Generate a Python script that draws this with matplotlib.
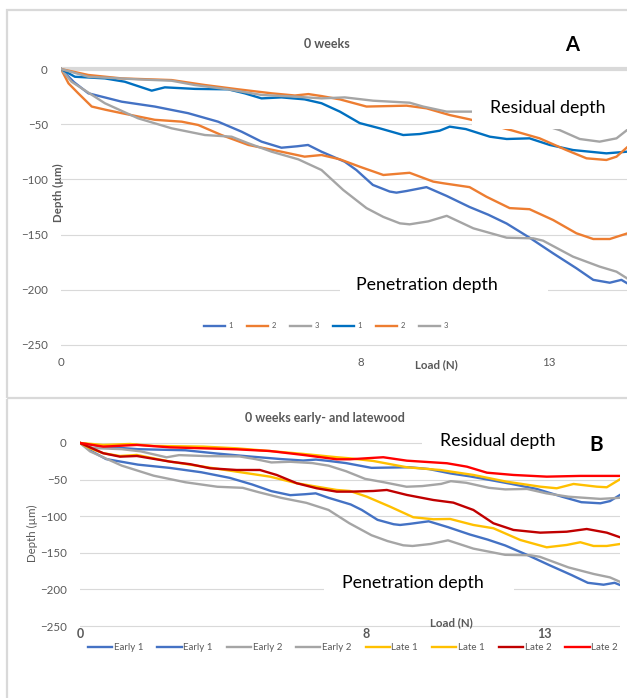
import matplotlib
matplotlib.use('Agg')
import matplotlib.pyplot as plt
from matplotlib.patches import Rectangle
from matplotlib.lines import Line2D

plt.rcParams['font.family'] = ['Lato', 'DejaVu Sans']

# ---- data: load (N) vs depth (um) ----
depth_ticks = [0, -50, -100, -150, -200, -250]
load_ticks = [0, 8, 13]
load_labels = ['0', '8', '13']

# panel A, penetration depth
pen1_load = [0, 0.35, 0.73, 1.2, 1.62, 2.5, 3.39, 4.19, 4.82, 5.35, 5.88, 6.3, 6.59, 6.95, 7.57,
             7.88, 8.32, 8.77, 8.95, 9.22, 9.75, 10.29, 10.9, 11.4, 11.89, 12.51, 13.13, 13.75,
             14.2, 14.64, 14.95, 15.1]
pen1_depth = [0, -12, -22, -26, -29.6, -34, -40, -47.7, -56.8, -65.8, -71.3, -70, -68.8, -74.9, -84,
              -91.5, -105, -111, -112, -110.5, -107, -115, -125, -132, -140, -153, -167, -180.5,
              -191, -193.6, -191, -194]
pen2_load = [0, 0.2, 0.46, 0.82, 1.2, 1.62, 2.5, 3.22, 3.66, 4.28, 5.0, 5.88, 6.5, 6.95, 7.44,
             7.97, 8.6, 9.3, 9.93, 10.2, 10.9, 11.35, 11.97, 12.5, 13.13, 13.75, 14.2, 14.64, 15.1]
pen2_depth = [0, -13, -22, -34, -37, -40, -46, -47.7, -50.7, -59.8, -68.8, -74.9, -79.4, -77.9, -81.8,
              -88.5, -96, -94, -102, -103.5, -107, -115.7, -126, -127, -136.8, -148.8, -154, -154, -149]
pen3_load = [0, 0.28, 1.17, 2.06, 2.95, 3.84, 4.55, 5.0, 5.62, 6.33, 6.95, 7.53, 8.15, 8.6, 9.04,
             9.3, 9.8, 10.29, 11.0, 11.89, 12.6, 12.86, 13.66, 14.37, 14.82, 15.1]
pen3_depth = [0, -11.5, -31, -44.7, -53.7, -59.8, -61.3, -67.3, -74.9, -81.8, -91.5, -109.6, -126, -134,
              -139.8, -140.7, -138, -133, -144.3, -152.8, -153.4, -155.5, -170, -179, -183.6, -189.6]

# panel A, residual depth
res1_load = [0, 0.37, 1.17, 1.7, 2.42, 2.77, 3.57, 4.46, 4.9, 5.35, 5.88, 6.5, 6.95, 7.44, 7.97, 8.5,
             9.13, 9.57, 10.1, 10.37, 10.8, 11.44, 11.89, 12.5, 13.04, 13.66, 14.55, 15.1]
res1_depth = [0, -7, -8.5, -11.5, -19.6, -16.6, -18, -18.4, -22, -26.6, -25.7, -27.5, -31, -38.6, -49,
              -53.7, -59.8, -58.9, -55.9, -52.2, -54.4, -61.3, -63.4, -62.8, -68.8, -73.4, -76.4, -74.9]
res2_load = [0, 0.73, 1.62, 2.95, 3.84, 4.73, 5.62, 6.24, 6.6, 6.95, 7.44, 8.15, 9.22, 9.75, 10.37,
             10.9, 11.4, 12.06, 12.77, 13.48, 14.02, 14.55, 14.82, 15.1]
res2_depth = [0, -5.4, -8.5, -10, -14.5, -18.4, -22, -24, -22.7, -24.5, -27.5, -34, -33.2, -35.6, -41.7,
              -45.6, -50, -55.9, -62.8, -73.4, -80.9, -82.4, -79.4, -71]
res3_load = [0, 0.73, 2.06, 2.95, 3.57, 4.46, 5.35, 6.24, 6.95, 7.57, 8.33, 9.3, 9.66, 10.29, 11.0,
             12.0, 12.8, 13.3, 13.84, 14.37, 14.82, 15.1]
res3_depth = [0, -7, -9.4, -10.6, -14.5, -18.4, -23.5, -25, -26.6, -25.7, -28.7, -30.5, -34, -38.6,
              -38.6, -43, -50, -55.3, -63.4, -65.8, -62.8, -55.3]

# panel B, latewood
late1_pen_load = [0, 0.28, 0.65, 1.12, 1.59, 2.52, 3.45, 4.38, 5.31, 6.06, 6.62, 7.18, 7.55, 8.02,
                  8.67, 9.32, 9.88, 10.35, 11.0, 11.56, 12.31, 13.05, 13.61, 13.99, 14.36, 14.73, 15.1]
late1_pen_depth = [0, -7.3, -14, -17.8, -16.4, -25.5, -32.4, -39.2, -46, -55, -59.7, -64.2, -65.6, -73.4,
                   -87, -101.5, -104.2, -103.8, -112, -116.5, -132.5, -142.5, -139.3, -135.6, -140.7,
                   -140.7, -138]
late1_res_load = [0, 0.65, 1.4, 2.04, 3.45, 4.38, 5.31, 6.25, 7.18, 7.55, 8.2, 9.14, 10.07, 11.0,
                  11.93, 12.87, 13.33, 13.8, 14.45, 14.73, 15.1]
late1_res_depth = [0, -2.7, -1.4, -4, -5, -7.3, -11, -15, -19.5, -21, -24.6, -33.2, -36.9, -43.7,
                   -52.9, -59.7, -61.9, -56, -59.7, -60.5, -49.6]
late2_pen_load = [0, 0.65, 1.12, 1.59, 2.52, 3.08, 3.64, 4.38, 5.03, 5.5, 6.06, 6.62, 7.18, 7.55, 8.2,
                  8.58, 9.14, 9.88, 10.44, 11.0, 11.56, 12.12, 12.87, 13.61, 14.17, 14.73, 15.1]
late2_pen_depth = [0, -14, -18.7, -17.8, -25.5, -29, -34.6, -36.9, -36.9, -43.7, -55, -61.9, -66.5, -66.5,
                   -65.6, -64.2, -71, -77.9, -81.5, -91.5, -109.7, -118.8, -122.5, -121.2, -117.5,
                   -122.5, -128.8]
late2_res_load = [0, 0.65, 1.59, 2.52, 3.45, 4.38, 5.31, 6.25, 7.18, 7.55, 8.48, 9.14, 10.26, 10.82,
                  11.38, 12.12, 13.05, 13.99, 14.73, 15.1]
late2_res_depth = [0, -5, -2.7, -6, -7.3, -8.7, -11, -16.4, -22.3, -22.3, -19.5, -24.2, -27.7, -32.4,
                   -40.6, -43.7, -46, -45, -45, -45]

GRAY_TXT = '#595959'
GRID = '#D9D9D9'

W, H = 627, 698
fig = plt.figure(figsize=(W / 100, H / 100), dpi=100)


def px_axes(l, t, r, b):
    return fig.add_axes([l / W, 1 - b / H, (r - l) / W, (b - t) / H])


def ftext(x, y, s, **kw):
    kw.setdefault('ha', 'center')
    kw.setdefault('va', 'center')
    kw.setdefault('zorder', 8)
    return fig.text(x / W, 1 - y / H, s, **kw)


def white_box(l, t, r, b):
    fig.add_artist(Rectangle((l / W, 1 - b / H), (r - l) / W, (b - t) / H,
                             transform=fig.transFigure, facecolor='white',
                             edgecolor='none', zorder=6))


def style_axes(ax, ylim):
    ax.set_xlim(0, 15.1)
    ax.set_ylim(*ylim)
    ax.set_yticks(depth_ticks)
    ax.set_xticks(load_ticks)
    ax.set_xticklabels(load_labels)
    for s in ax.spines.values():
        s.set_visible(False)
    ax.tick_params(length=0, colors=GRAY_TXT, labelsize=8.3)
    ax.tick_params(axis='y', pad=9.5)
    ax.grid(axis='y', color=GRID, lw=0.8)
    ax.set_axisbelow(True)


# ---------------- panel A ----------------
axA = px_axes(61, 63.5, 627, 350.5)
style_axes(axA, (-255, 5))
axA.tick_params(axis='x', pad=4.5)
axA.axhline(0, color=GRID, lw=3, zorder=0.6)

lw = 1.7
axA.plot(pen1_load, pen1_depth, color='#4472C4', lw=lw, label='1')
axA.plot(pen2_load, pen2_depth, color='#ED7D31', lw=lw, label='2')
axA.plot(pen3_load, pen3_depth, color='#A5A5A5', lw=lw, label='3')
axA.plot(res1_load, res1_depth, color='#0070C0', lw=lw, label='1')
axA.plot(res2_load, res2_depth, color='#ED7D31', lw=lw, label='2')
axA.plot(res3_load, res3_depth, color='#A5A5A5', lw=lw, label='3')

axA.legend(loc='center', bbox_to_anchor=(326 / W, 1 - 326 / H), bbox_transform=fig.transFigure,
           ncol=6, frameon=False, fontsize=5.5, labelcolor=GRAY_TXT, handlelength=2.75,
           handletextpad=0.4, columnspacing=1.9)

ftext(327, 44, '0 weeks', fontsize=9, fontweight='bold', color=GRAY_TXT)
ftext(572, 45, 'A', fontsize=14.5, fontweight='bold', color='black')
ftext(58, 193, 'Depth (µm)', fontsize=8.3, fontweight='bold', color=GRAY_TXT, rotation=90)
ftext(436, 365, 'Load (N)', fontsize=8.3, fontweight='bold', color=GRAY_TXT)
white_box(472, 94, 627, 129)
ftext(548, 108, 'Residual depth', fontsize=12.8, color='black')
white_box(340, 268, 548, 302)
ftext(427, 285, 'Penetration depth', fontsize=12.8, color='black')

# ---------------- panel B ----------------
axB = px_axes(80, 439.3, 620, 628.2)
style_axes(axB, (-253, 5))
axB.tick_params(axis='x', pad=0, labelsize=9)
for t in axB.get_xticklabels():
    t.set_fontweight('bold')

axB.plot(pen1_load, pen1_depth, color='#4472C4', lw=lw, label='Early 1')
axB.plot(res2_load, res2_depth, color='#4472C4', lw=lw, label='Early 1')
axB.plot(pen3_load, pen3_depth, color='#A5A5A5', lw=lw, label='Early 2')
axB.plot(res1_load, res1_depth, color='#A5A5A5', lw=lw, label='Early 2')
axB.plot(late1_pen_load, late1_pen_depth, color='#FFC000', lw=lw, label='Late 1')
axB.plot(late1_res_load, late1_res_depth, color='#FFC000', lw=lw, label='Late 1')
axB.plot(late2_pen_load, late2_pen_depth, color='#C00000', lw=lw, label='Late 2')
axB.plot(late2_res_load, late2_res_depth, color='#FF0000', lw=lw, label='Late 2')

axB.legend(loc='center', bbox_to_anchor=(353 / W, 1 - 648 / H), bbox_transform=fig.transFigure,
           ncol=8, frameon=False, fontsize=7, labelcolor=GRAY_TXT, handlelength=2.5,
           handletextpad=0.15, columnspacing=1.45)

ftext(325, 418, '0 weeks early- and latewood', fontsize=9, fontweight='bold', color=GRAY_TXT)
ftext(596, 445, 'B', fontsize=15, fontweight='bold', color='black')
ftext(32, 533, 'Depth (µm)', fontsize=8.3, color=GRAY_TXT, rotation=90)
ftext(451, 623, 'Load (N)', fontsize=8.3, fontweight='bold', color=GRAY_TXT)
white_box(422, 430, 620, 452)
ftext(498, 441, 'Residual depth', fontsize=12.8, color='black')
white_box(324, 572, 514, 598)
ftext(413, 583, 'Penetration depth', fontsize=12.8, color='black')

# panel frames
fig.add_artist(Rectangle((7 / W, 1 - 398 / H), 630 / W, 388 / H, transform=fig.transFigure,
                         fill=False, edgecolor=GRID, lw=1.6, zorder=10))
fig.add_artist(Line2D([7 / W, 7 / W], [1 - 400 / H, 0], transform=fig.transFigure,
                      color=GRID, lw=1.6, zorder=10))

fig.savefig('out.png', dpi=100, facecolor='white')
